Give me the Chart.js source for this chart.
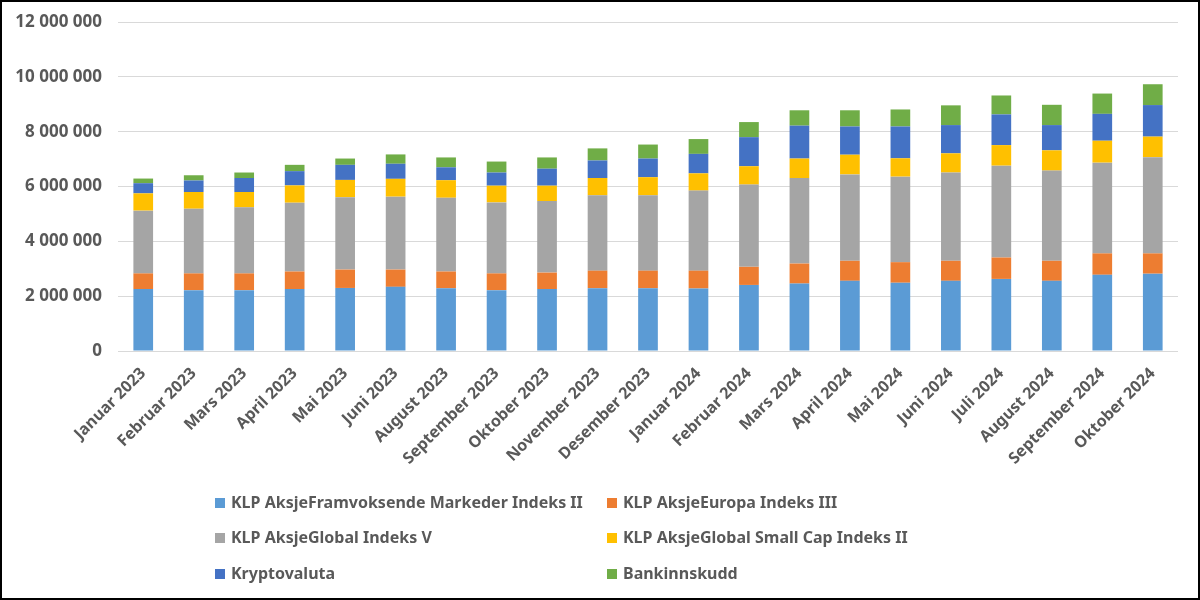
<!DOCTYPE html>
<html>
<head>
<meta charset="utf-8">
<script src="https://cdn.jsdelivr.net/npm/chart.js@4/dist/chart.umd.min.js"></script>
<style>
  html, body { margin: 0; padding: 0; background: #fff; }
  #frame { position: relative; width: 1200px; height: 600px; box-sizing: border-box; border: 2px solid #000; background: #fff; }
  #c { position: absolute; left: 0; top: 0; }
  .leg { position: absolute; font-family: "Noto Sans", sans-serif; font-weight: bold; font-size: 16px; color: #595959; white-space: nowrap; line-height: 18px; }
  .leg span.sw { display: inline-block; width: 10px; height: 10px; margin-right: 6px; vertical-align: 0px; }
</style>
</head>
<body>
<div id="frame">
  <canvas id="c" width="1196" height="596"></canvas>
  <div id="legend"></div>
</div>
<script>
const categories = ["Januar 2023","Februar 2023","Mars 2023","April 2023","Mai 2023","Juni 2023","August 2023","September 2023","Oktober 2023","November 2023","Desember 2023","Januar 2024","Februar 2024","Mars 2024","April 2024","Mai 2024","Juni 2024","Juli 2024","August 2024","September 2024","Oktober 2024"];

const seriesNames = ["KLP AksjeFramvoksende Markeder Indeks II","KLP AksjeEuropa Indeks III","KLP AksjeGlobal Indeks V","KLP AksjeGlobal Small Cap Indeks II","Kryptovaluta","Bankinnskudd"];

const framvoksende = [2260000,2220000,2220000,2260000,2300000,2340000,2290000,2220000,2260000,2290000,2290000,2280000,2410000,2460000,2560000,2490000,2560000,2630000,2560000,2780000,2820000];
const europa = [570000,610000,610000,640000,670000,630000,610000,610000,600000,640000,640000,650000,660000,730000,730000,750000,730000,780000,730000,780000,740000];
const global = [2290000,2360000,2410000,2510000,2640000,2660000,2690000,2590000,2610000,2750000,2750000,2920000,3000000,3120000,3150000,3120000,3220000,3350000,3290000,3310000,3510000];
const smallCap = [630000,610000,560000,630000,630000,650000,640000,610000,560000,630000,660000,630000,670000,710000,720000,670000,700000,750000,740000,800000,750000];
const krypto = [370000,420000,510000,520000,550000,550000,470000,480000,620000,640000,680000,710000,1060000,1200000,1030000,1160000,1030000,1120000,920000,980000,1150000];
const bank = [170000,190000,200000,230000,230000,340000,360000,400000,410000,440000,510000,540000,550000,560000,590000,620000,720000,690000,740000,740000,760000];

const colors = ["#5B9BD5","#ED7D31","#A5A5A5","#FFC000","#4472C4","#70AD47"];
const seriesData = [framvoksende, europa, global, smallCap, krypto, bank];

const yMax = 12000000;
const yStep = 2000000;

function fmt(v) {
  return String(Math.round(v)).replace(/\B(?=(\d{3})+(?!\d))/g, " ");
}

const datasets = seriesNames.map((n, i) => ({
  label: n,
  data: seriesData[i],
  backgroundColor: colors[i],
  borderWidth: 0,
  barPercentage: 0.39,
  categoryPercentage: 1.0
}));

const FONT = "'Noto Sans', sans-serif";

new Chart(document.getElementById('c'), {
  type: 'bar',
  data: { labels: categories, datasets },
  options: {
    responsive: false,
    animation: false,
    devicePixelRatio: 1,
    layout: { padding: { top: 20, right: 20, left: 0, bottom: 0 } },
    plugins: { legend: { display: false }, tooltip: { enabled: false } },
    scales: {
      x: {
        stacked: true,
        grid: { display: false, drawTicks: false },
        border: { display: false },
        ticks: {
          minRotation: 45, maxRotation: 45, autoSkip: false, padding: 13,
          color: "#595959", font: { family: FONT, size: 16, weight: 'bold' }
        },
        afterFit(scale) { scale.height = 247; scale.paddingLeft = 0; scale.paddingRight = 0; }
      },
      y: {
        stacked: true,
        min: 0, max: yMax,
        grid: { color: "#D9D9D9", lineWidth: 1, drawTicks: false },
        border: { display: false },
        ticks: {
          stepSize: yStep, padding: 16,
          color: "#595959", font: { family: FONT, size: 17, weight: 'bold' },
          callback: (v) => fmt(v)
        },
        afterFit(scale) { scale.width = 116; scale.paddingTop = 0; scale.paddingBottom = 0; }
      }
    }
  }
});

// legend in two columns
const legend = document.getElementById('legend');
const legPos = [[213, 491],[605, 491],[213, 526],[605, 526],[213, 562],[605, 562]];
seriesNames.forEach((n, i) => {
  const d = document.createElement('div');
  d.className = 'leg';
  d.style.left = legPos[i][0] + 'px';
  d.style.top = legPos[i][1] + 'px';
  d.innerHTML = '<span class="sw" style="background:' + colors[i] + '"></span>' + n;
  legend.appendChild(d);
});
</script>
</body>
</html>
